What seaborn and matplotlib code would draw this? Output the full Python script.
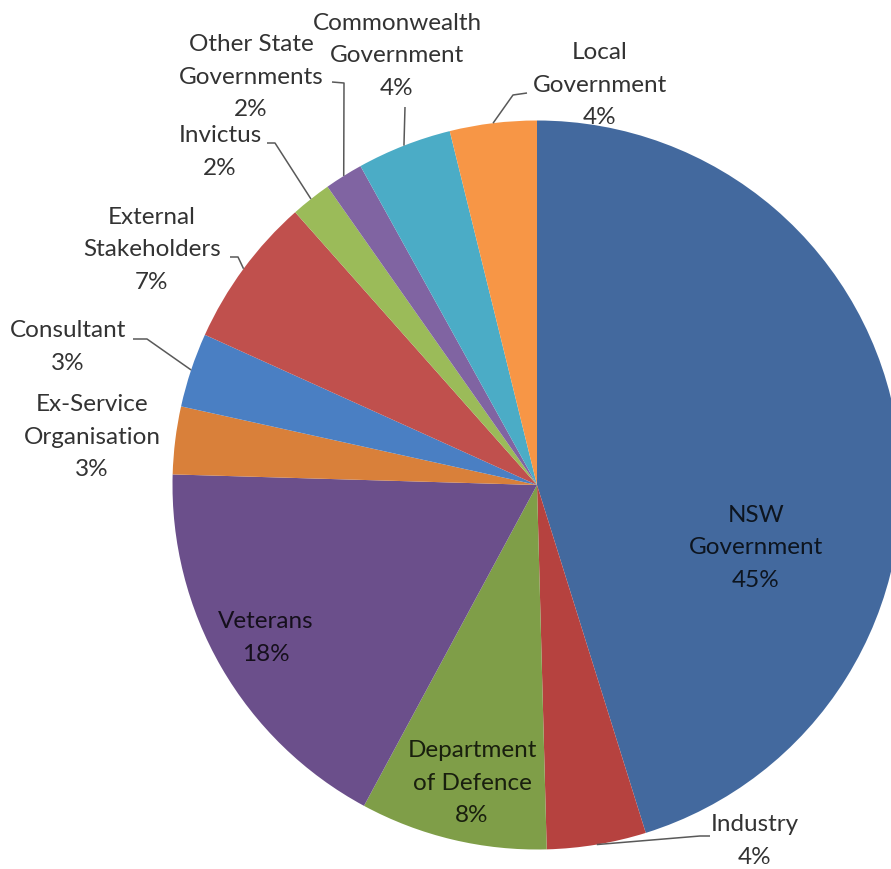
import numpy as np
import matplotlib
matplotlib.use("Agg")
import matplotlib.pyplot as plt
import seaborn as sns

# ---------------- data ----------------
categories = [
    "NSW\nGovernment", "Industry", "Department\nof Defence", "Veterans",
    "Ex-Service\nOrganisation", "Consultant", "External\nStakeholders",
    "Invictus", "Other State\nGovernments", "Commonwealth\nGovernment",
    "Local\nGovernment",
]
shares = [45.2, 4.4, 8.3, 17.6, 3.0, 3.3, 6.7, 1.8, 1.7, 4.2, 3.85]
slice_colors = [
    "#43699E", "#B6423F", "#7F9E48", "#6B4F8B", "#D9803A", "#4A7FC3",
    "#C0504D", "#9BBB59", "#8064A2", "#4BACC6", "#F79646",
]

# ---------------- layout (pixels, y measured downward) ----------------
W, H = 891, 869
CX, CY, R = 537, 485, 364.5
label_pos = [(756, 548), (755, 841), (472, 783), (266, 638), (92, 437),
             (68, 347), (152, 250), (220, 152), (251, 77), (397, 56),
             (600, 85)]
leader_pts = [None, [(700, 836), (710, 836)], None, None, None,
              [(147, 339), (133, 339)], [(238, 257), (230, 257)],
              [(275, 143), (267, 143)], [(344, 83), (332, 82)],
              [(405, 107)], [(513, 95), (527, 93)]]

sns.set_theme(style="white")
plt.rcParams["font.family"] = ["Lato", "DejaVu Sans"]

fig = plt.figure(figsize=(W / 100, H / 100), dpi=100)
ax = fig.add_axes([0, 0, 1, 1])

palette = sns.color_palette(slice_colors)
wedges, _ = ax.pie(shares, colors=palette, startangle=90, counterclock=False,
                   center=(CX, H - CY), radius=R,
                   wedgeprops=dict(linewidth=0))
ax.set_xlim(0, W)
ax.set_ylim(0, H)
ax.set_aspect("equal")
ax.axis("off")

total = sum(shares)
for i, (w, cat, v) in enumerate(zip(wedges, categories, shares)):
    pct = round(v / total * 100)
    lx, ly = label_pos[i]
    ax.text(lx, H - ly, f"{cat}\n{pct}%", ha="center", va="center",
            multialignment="center", fontsize=17.5, linespacing=1.66,
            color="black", alpha=0.8)
    if leader_pts[i] is not None:
        mid = np.deg2rad((w.theta1 + w.theta2) / 2)
        xs = [CX + R * np.cos(mid)] + [p[0] for p in leader_pts[i]]
        ys = [H - CY + R * np.sin(mid)] + [H - p[1] for p in leader_pts[i]]
        ax.plot(xs, ys, color="#595959", lw=1.1, solid_capstyle="butt")

fig.savefig("out.png", dpi=100)
